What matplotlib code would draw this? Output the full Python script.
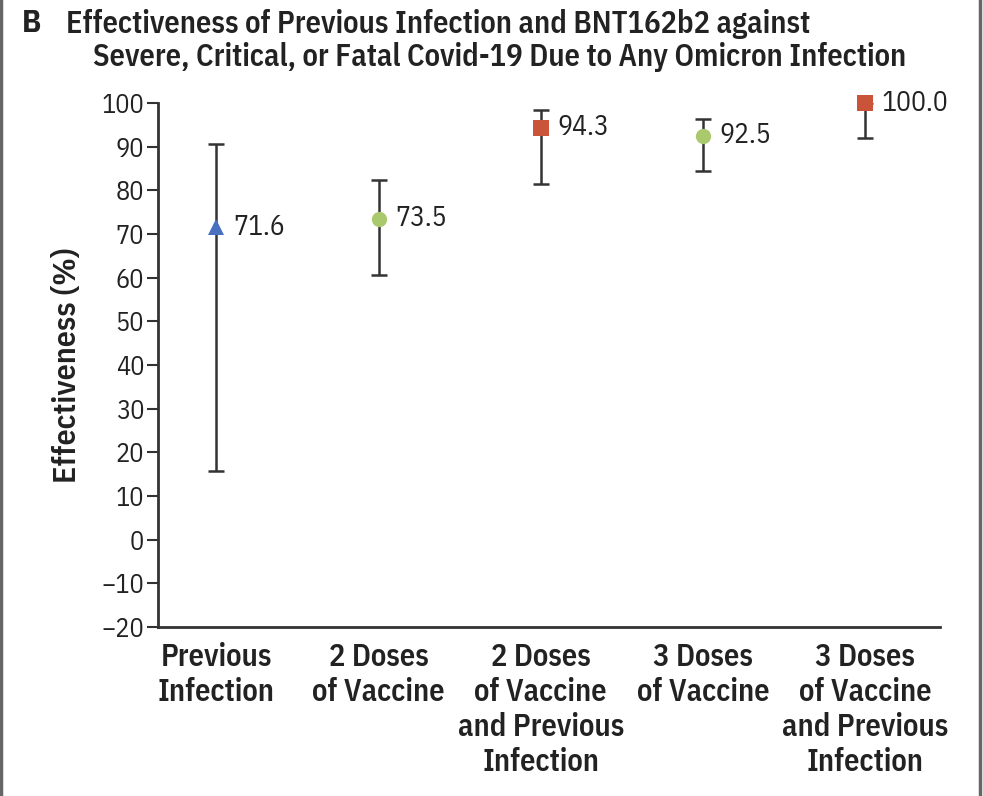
import matplotlib.pyplot as plt
from matplotlib.patches import Rectangle

BOLD = ['IBM Plex Sans Condensed', 'DejaVu Sans']
REG = ['IBM Plex Sans Condensed', 'DejaVu Sans']
plt.rcParams['font.family'] = REG

categories = ['Previous\nInfection', '2 Doses\nof Vaccine', '2 Doses\nof Vaccine\nand Previous\nInfection',
              '3 Doses\nof Vaccine', '3 Doses\nof Vaccine\nand Previous\nInfection']
estimate = [71.6, 73.5, 94.3, 92.5, 100.0]
lower = [15.7, 60.6, 81.5, 84.4, 92.0]
upper = [90.6, 82.4, 98.4, 96.3, 100.0]
markers = ['^', 'o', 's', 'o', 's']
colors = ['#4a70c0', '#a9c96c', '#c9543a', '#a9c96c', '#c9543a']

fig = plt.figure(figsize=(9.83, 7.96), dpi=100)
ax = fig.add_axes([0.1607, 0.2123, 0.7953, 0.6583])

dark = '#333333'
for i in range(len(estimate)):
    ax.errorbar(i, estimate[i], yerr=[[estimate[i] - lower[i]], [upper[i] - estimate[i]]],
                fmt='none', ecolor=dark, elinewidth=1.8, capsize=6, capthick=1.8, zorder=2)
    ax.plot(i, estimate[i], marker=markers[i], color=colors[i], markersize=11,
            markeredgewidth=0, zorder=3, clip_on=False)
    ax.annotate(f'{estimate[i]:.1f}', (i, estimate[i]), xytext=(12, 0), textcoords='offset points',
                va='center', ha='left', fontsize=20, color='#222222')

ax.set_xlim(-0.36, 4.46)
ax.set_ylim(-20, 100)
ax.set_yticks(range(-20, 101, 10))
ax.set_yticklabels([str(v).replace('-', '\u2212') for v in range(-20, 101, 10)])
ax.tick_params(axis='y', direction='out', length=8, width=1.5, color=dark, labelsize=19,
               labelcolor='#222222', pad=2)
ax.set_xticks(range(len(categories)))
ax.set_xticklabels(categories, fontsize=22, fontweight=600, linespacing=1.2, color='#222222',
                   family=BOLD)
ax.tick_params(axis='x', length=0, pad=11)
for s in ['top', 'right']:
    ax.spines[s].set_visible(False)
for s in ['left', 'bottom']:
    ax.spines[s].set_color(dark)
    ax.spines[s].set_linewidth(2)
ax.set_ylabel('Effectiveness (%)', fontsize=23, fontweight=600, color='#222222', labelpad=14,
              family=BOLD)

fig.text(0.022, 0.989, 'B', fontsize=23, fontweight='bold', va='top', ha='left', color='#222222',
         family=BOLD)
fig.text(0.067, 0.989, 'Effectiveness of Previous Infection and BNT162b2 against',
         fontsize=22, fontweight=600, va='top', ha='left', color='#222222', family=BOLD)
fig.text(0.095, 0.947, 'Severe, Critical, or Fatal Covid-19 Due to Any Omicron Infection',
         fontsize=22, fontweight=600, va='top', ha='left', color='#222222', family=BOLD)

fig.patches.append(Rectangle((0.001, -0.01), 0.996, 1.02, transform=fig.transFigure,
                             fill=False, edgecolor='#666666', linewidth=2.5))

fig.savefig('out.png', dpi=100)
